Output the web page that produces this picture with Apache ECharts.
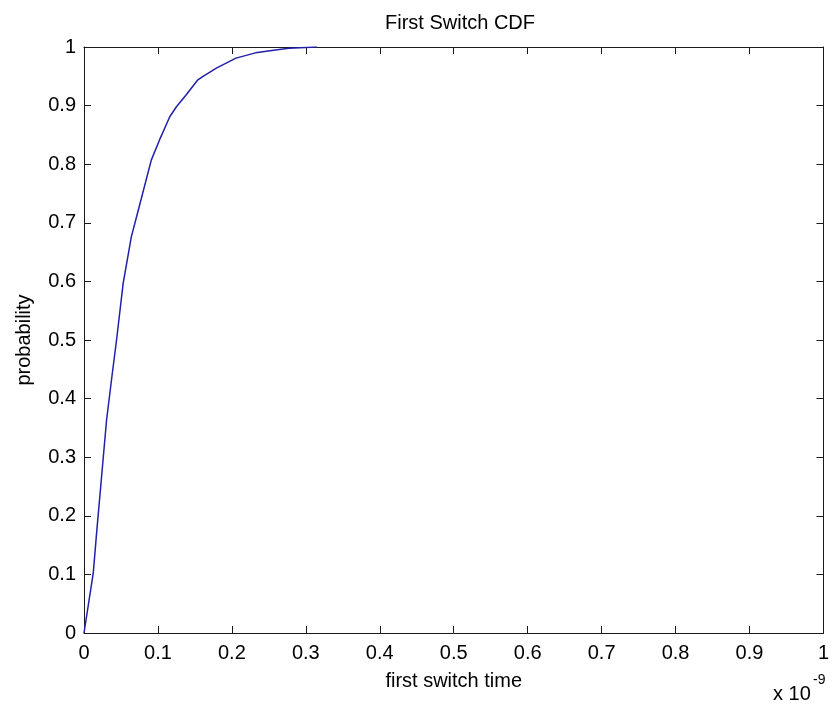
<!DOCTYPE html>
<html>
	<head>
		<meta charset="utf-8">
		<title>First Switch CDF</title>
		<style>
			html, body { margin: 0; padding: 0; background: #fff; }
			#main { width: 832px; height: 709px; }
		</style>
	</head>
	<body>
		<div id="main"></div>
		<script src="https://cdn.jsdelivr.net/npm/echarts@6/dist/echarts.min.js"></script>
		<script type="text/javascript">
			// switch time in units of 1e-9 s (axis shows "x 10^-9")
			var switchTime = [0, 0.0013, 0.0125, 0.017, 0.024, 0.0305, 0.037, 0.044, 0.053, 0.064, 0.077, 0.091, 0.102, 0.116, 0.125, 0.138, 0.154, 0.161, 0.179, 0.2055, 0.232, 0.259, 0.277, 0.315];
			var probability = [0, 0, 0.102, 0.17, 0.27, 0.363, 0.43, 0.5, 0.597, 0.676, 0.739, 0.807, 0.841, 0.881, 0.898, 0.918, 0.944, 0.950, 0.964, 0.981, 0.990, 0.995, 0.998, 1.0];

			var fontFamily = '"Liberation Sans", Arial, sans-serif';
			var axisColor = '#1a1a1a';

			var points = [];
			for (var i = 0; i < switchTime.length; i++) {
				points.push([switchTime[i], probability[i]]);
			}

			function boxAxis(extra) {
				var a = {
					type: 'value',
					min: 0,
					max: 1,
					interval: 0.1,
					axisLine: { show: true, onZero: false, lineStyle: { color: axisColor, width: 1 } },
					axisTick: { show: true, inside: true, length: 7, lineStyle: { color: axisColor } },
					axisLabel: { show: false },
					splitLine: { show: false }
				};
				for (var k in extra) a[k] = extra[k];
				return a;
			}

			var labelStyle = { show: true, color: '#000', fontSize: 20, fontFamily: fontFamily };

			var myChart = echarts.init(document.getElementById('main'));
			var option = {
				backgroundColor: '#fff',
				animation: false,
				title: {
					text: 'First Switch CDF',
					left: 455,
					textAlign: 'center',
					top: 8,
					textStyle: { color: '#000', fontSize: 20, fontWeight: 'normal', fontFamily: fontFamily }
				},
				grid: { left: 84, right: 5, top: 47, bottom: 76, containLabel: false },
				xAxis: [
					boxAxis({
						position: 'bottom',
						axisLabel: Object.assign({ margin: 10 }, labelStyle),
						name: 'first switch time',
						nameLocation: 'middle',
						nameGap: 38,
						nameTextStyle: { color: '#000', fontSize: 20, fontFamily: fontFamily }
					}),
					boxAxis({ position: 'top' })
				],
				yAxis: [
					boxAxis({
						position: 'left',
						axisLabel: Object.assign({ margin: 8 }, labelStyle),
						name: 'probability',
						nameLocation: 'middle',
						nameGap: 50,
						nameTextStyle: { color: '#000', fontSize: 20, fontFamily: fontFamily }
					}),
					boxAxis({ position: 'right' })
				],
				graphic: [
					{
						type: 'text',
						left: 773,
						top: 684,
						style: { text: 'x 10', fill: '#000', fontSize: 20, fontFamily: fontFamily }
					},
					{
						type: 'text',
						left: 813,
						top: 673,
						style: { text: '-9', fill: '#000', fontSize: 14, fontFamily: fontFamily }
					}
				],
				series: [{
					type: 'line',
					xAxisIndex: 0,
					yAxisIndex: 0,
					data: points,
					showSymbol: false,
					lineStyle: { color: '#2020a8', width: 1.5 }
				}]
			};
			myChart.setOption(option);
		</script>
	</body>
</html>
